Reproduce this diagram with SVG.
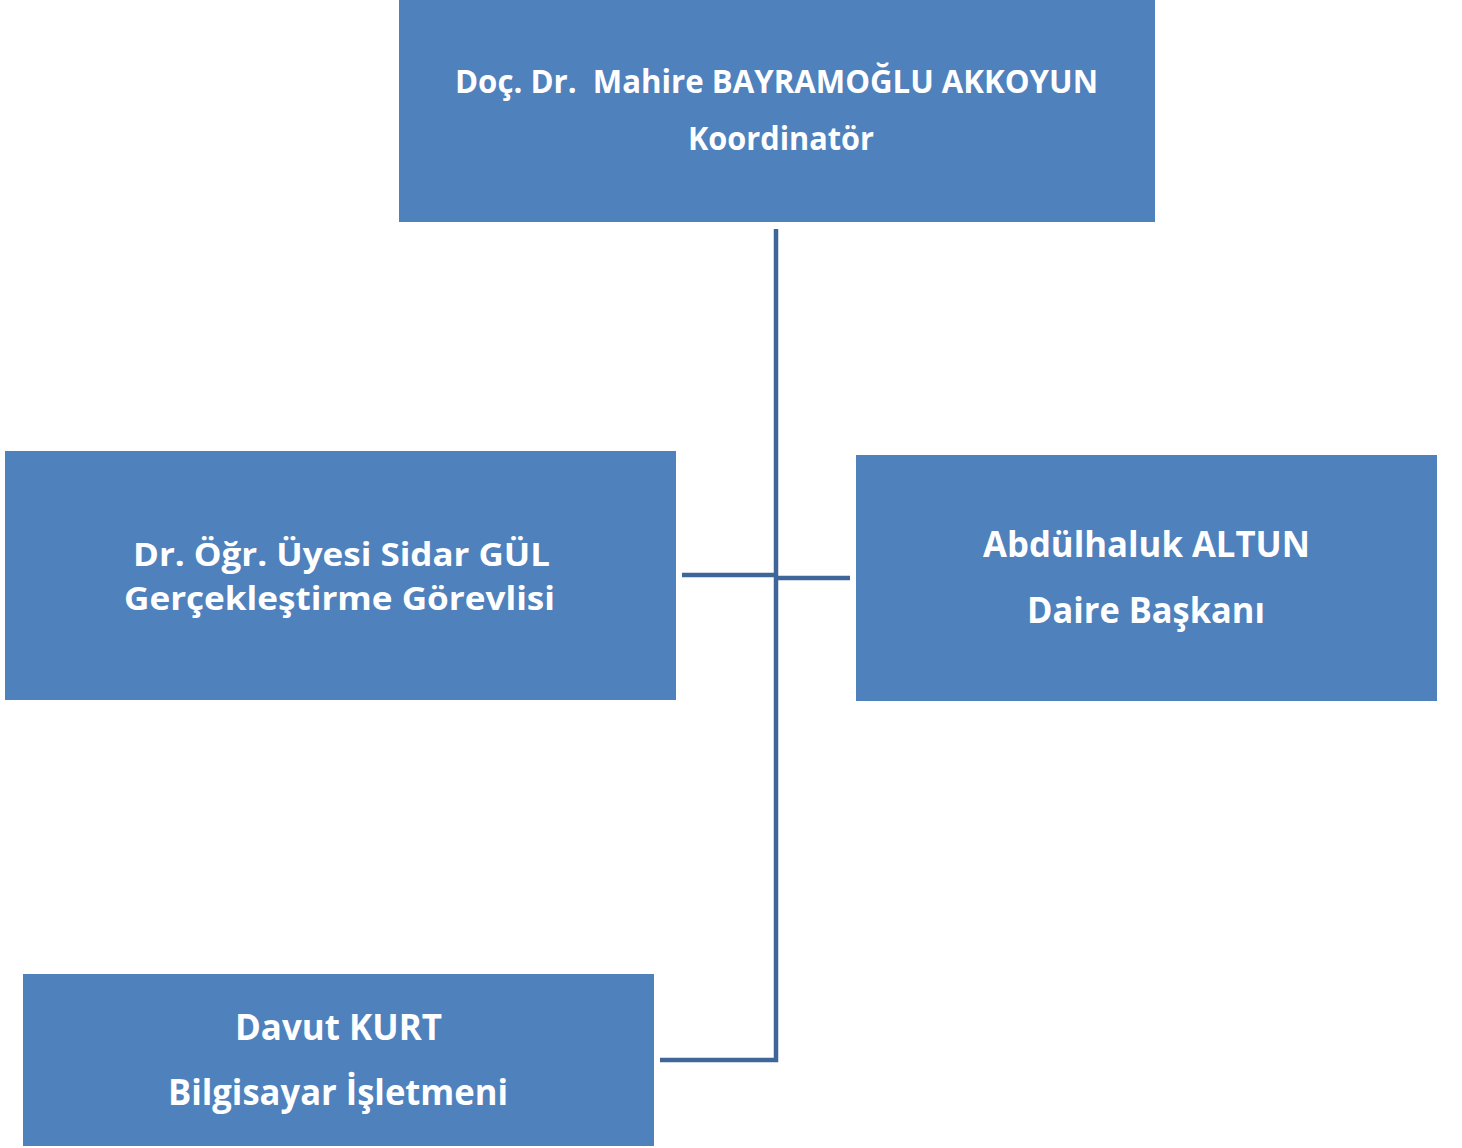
<svg xmlns="http://www.w3.org/2000/svg" width="1462" height="1148" viewBox="0 0 1462 1148">
<style>
.box{fill:#4F81BD;}
.t{font-family:"Open Sans","Liberation Sans",sans-serif;font-weight:bold;fill:#FFFFFF;}
.c{stroke:#3E6699;stroke-width:4.5;fill:none;}
</style>
<rect width="1462" height="1148" fill="#FFFFFF"/>
<g id="connectors">
<path class="c" d="M776,229 V1060 H660"/>
<path class="c" d="M682,575 H776"/>
<path class="c" d="M776,578 H850"/>
</g>
<g id="node-koordinator">
<rect class="box" x="399" y="0" width="756" height="222"/>
<text class="t" x="455" y="93" font-size="32" textLength="643" lengthAdjust="spacingAndGlyphs" xml:space="preserve">Doç. Dr.  Mahire BAYRAMOĞLU AKKOYUN</text>
<text class="t" x="688" y="150" font-size="32" textLength="186" lengthAdjust="spacingAndGlyphs">Koordinatör</text>
</g>
<g id="node-gerceklestirme">
<rect class="box" x="5" y="451" width="671" height="249"/>
<text class="t" x="133" y="566" font-size="33" textLength="417" lengthAdjust="spacingAndGlyphs">Dr. Öğr. Üyesi Sidar GÜL</text>
<text class="t" x="124" y="610" font-size="33" textLength="431" lengthAdjust="spacingAndGlyphs">Gerçekleştirme Görevlisi</text>
</g>
<g id="node-daire">
<rect class="box" x="856" y="455" width="581" height="246"/>
<text class="t" x="983" y="557" font-size="35" textLength="327" lengthAdjust="spacingAndGlyphs">Abdülhaluk ALTUN</text>
<text class="t" x="1027" y="623" font-size="35" textLength="238" lengthAdjust="spacingAndGlyphs">Daire Başkanı</text>
</g>
<g id="node-bilgisayar">
<rect class="box" x="23" y="974" width="631" height="172"/>
<text class="t" x="235" y="1040" font-size="35" textLength="207" lengthAdjust="spacingAndGlyphs">Davut KURT</text>
<text class="t" x="168" y="1105" font-size="35" textLength="340" lengthAdjust="spacingAndGlyphs">Bilgisayar İşletmeni</text>
</g>
</svg>
